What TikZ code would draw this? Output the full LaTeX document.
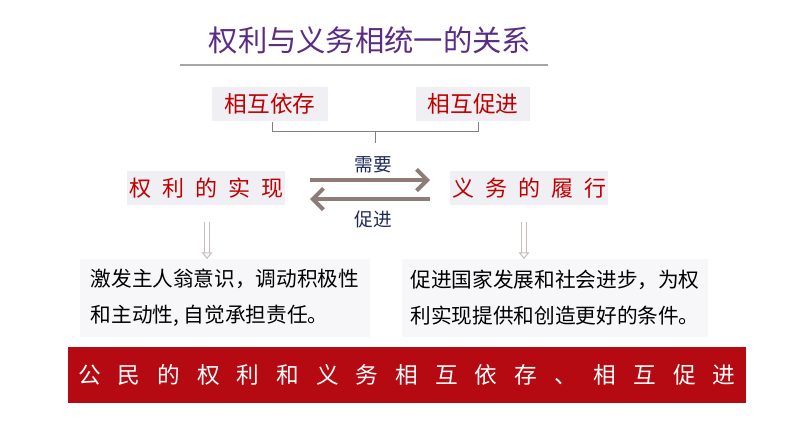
\documentclass[tikz,border=0pt]{standalone}
\usepackage{fontspec}
\newfontfamily\cjk{Noto Sans CJK SC}
\usetikzlibrary{arrows.meta}
\definecolor{dred}{HTML}{C00000}
\definecolor{bred}{HTML}{B50A12}
\definecolor{lbox}{HTML}{EFEFF4}
\definecolor{tbox}{HTML}{F7F7FA}
\definecolor{arr}{HTML}{8E7C78}
\definecolor{navy}{HTML}{1F2A5A}
\definecolor{ttl}{HTML}{5B2C83}
\tikzset{
  tag/.style={fill=lbox,text=dred,font=\cjk\fontsize{17}{17}\selectfont,inner sep=0pt,minimum height=26pt},
  txtbox/.style={fill=tbox,inner sep=0pt,minimum width=217pt,minimum height=58pt,align=left,font=\cjk\fontsize{15.5}{27}\selectfont},
  bigarr/.style={draw=arr,line width=3.5pt,-{Straight Barb[length=8pt,width=16pt,line width=3pt]}},
  smallarr/.style={draw=arr!50,line width=0.8pt,double=white,double distance=2.5pt,-{Triangle[open,length=5pt,width=8pt]}},
  lbl/.style={text=navy,font=\cjk\fontsize{14}{14}\selectfont}
}
\begin{document}
\begin{tikzpicture}[x=0.75pt,y=-0.75pt]
\useasboundingbox (0,0) rectangle (794,447);
\node[text=ttl,font=\cjk\fontsize{22}{22}\selectfont] (title) at (370,40) {权利与义务相统一的关系};
\coordinate (ul) at (180,65); \coordinate (ur) at (548,65);
\draw[gray!70,line width=0.8pt] (ul) -- (ur);
\node[tag,minimum width=87pt] (yc) at (270,104) {相互依存};
\node[tag,minimum width=85pt] (cj) at (473,104) {相互促进};
\coordinate (b1) at (272,122); \coordinate (b2) at (478,122); \coordinate (bm) at (375,143);
\draw[gray,line width=0.6pt] (b1) -- ++(0,9) -| (b2);
\draw[gray,line width=0.6pt] (375,131) -- (bm);
\node[tag,font=\cjk\fontsize{16.5}{16.5}\selectfont,minimum width=118pt,minimum height=25pt] (ql) at (206,188) {权\hspace{0.5em}利\hspace{0.5em}的\hspace{0.5em}实\hspace{0.5em}现};
\node[tag,font=\cjk\fontsize{16.5}{16.5}\selectfont,minimum width=118pt,minimum height=25pt] (yw) at (529,188) {义\hspace{0.5em}务\hspace{0.5em}的\hspace{0.5em}履\hspace{0.5em}行};
\coordinate (a1) at (310,180); \coordinate (a2) at (430,180);
\coordinate (a3) at (430,199); \coordinate (a4) at (310,199);
\draw[bigarr] (a1) -- (a2);
\draw[bigarr] (a3) -- (a4);
\node[lbl] (xy) at (373,165) {需要};
\node[lbl] (cjl) at (373,219) {促进};
\node[txtbox] (lb) at (225,298) {激发主人翁意识，调动积极性\\和主动性, 自觉承担责任。};
\node[txtbox,minimum width=230pt] (rb) at (555,298) {促进国家发展和社会进步，为权\\利实现提供和创造更好的条件。};
\draw[smallarr] (207,222) -- (lb.north -| 207,0);
\draw[smallarr] (524,222) -- (rb.north -| 524,0);
\node[fill=bred,minimum width=508pt,minimum height=42pt,text=white,font=\cjk\fontsize{17}{17}\selectfont] (bar) at (407,375) {公\hspace{0.75em}民\hspace{0.75em}的\hspace{0.75em}权\hspace{0.75em}利\hspace{0.75em}和\hspace{0.75em}义\hspace{0.75em}务\hspace{0.75em}相\hspace{0.75em}互\hspace{0.75em}依\hspace{0.75em}存\hspace{0.75em}、\hspace{0.75em}相\hspace{0.75em}互\hspace{0.75em}促\hspace{0.75em}进};
\end{tikzpicture}
\end{document}
